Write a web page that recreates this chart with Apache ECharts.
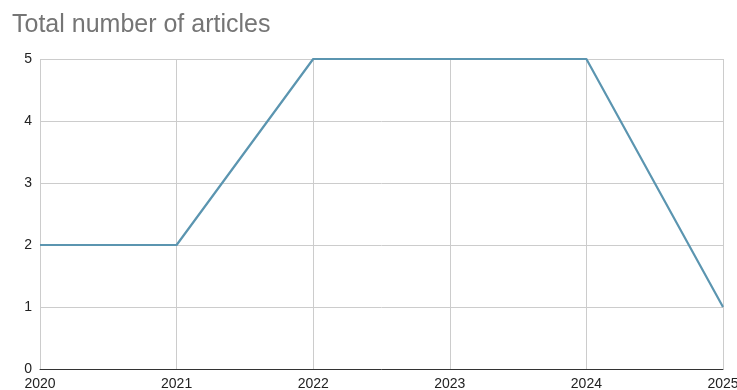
<!DOCTYPE html>
<html>
<head>
<meta charset="utf-8">
<script src="https://cdn.jsdelivr.net/npm/echarts@6/dist/echarts.min.js"></script>
<style>
  html, body { margin: 0; padding: 0; background: #fff; }
  #chart { width: 737px; height: 390px; }
</style>
</head>
<body>
<div id="chart"></div>
<script>
// years on the x axis and article counts
var years = [2020, 2021, 2022, 2023, 2024, 2025];
var articles = [2, 2, 5, 5, 5, 1];

var points = years.map(function (y, i) { return [y, articles[i]]; });

var myChart = echarts.init(document.getElementById('chart'));

var option = {
    animation: false,
    title: {
        text: 'Total number of articles',
        left: 7,
        top: 8,
        textStyle: {
            fontFamily: 'Liberation Sans, Arial, sans-serif',
            fontSize: 25,
            fontWeight: 'normal',
            color: '#757575'
        }
    },
    grid: { left: 40, right: 14, top: 59, bottom: 21, outerBoundsMode: 'none' },
    xAxis: {
        type: 'value',
        min: 2020,
        max: 2025,
        interval: 1,
        axisLine: { show: true, lineStyle: { color: '#333', width: 1 } },
        axisTick: { show: false },
        splitLine: { show: true, lineStyle: { color: '#ccc' } },
        axisLabel: {
            margin: 8,
            fontFamily: 'Liberation Sans, Arial, sans-serif',
            fontSize: 14,
            color: '#222',
            showMinLabel: true,
            showMaxLabel: true,
            formatter: function (v) { return String(v); }
        }
    },
    yAxis: {
        type: 'value',
        min: 0,
        max: 5,
        interval: 1,
        axisLine: { show: false },
        axisTick: { show: false },
        splitLine: { lineStyle: { color: '#ccc' } },
        axisLabel: {
            margin: 8,
            fontFamily: 'Liberation Sans, Arial, sans-serif',
            fontSize: 14,
            color: '#222'
        }
    },
    series: [{
        type: 'line',
        data: points,
        symbol: 'none',
        lineStyle: { color: '#5b95b0', width: 2.2 }
    }]
};

myChart.setOption(option);
</script>
</body>
</html>
